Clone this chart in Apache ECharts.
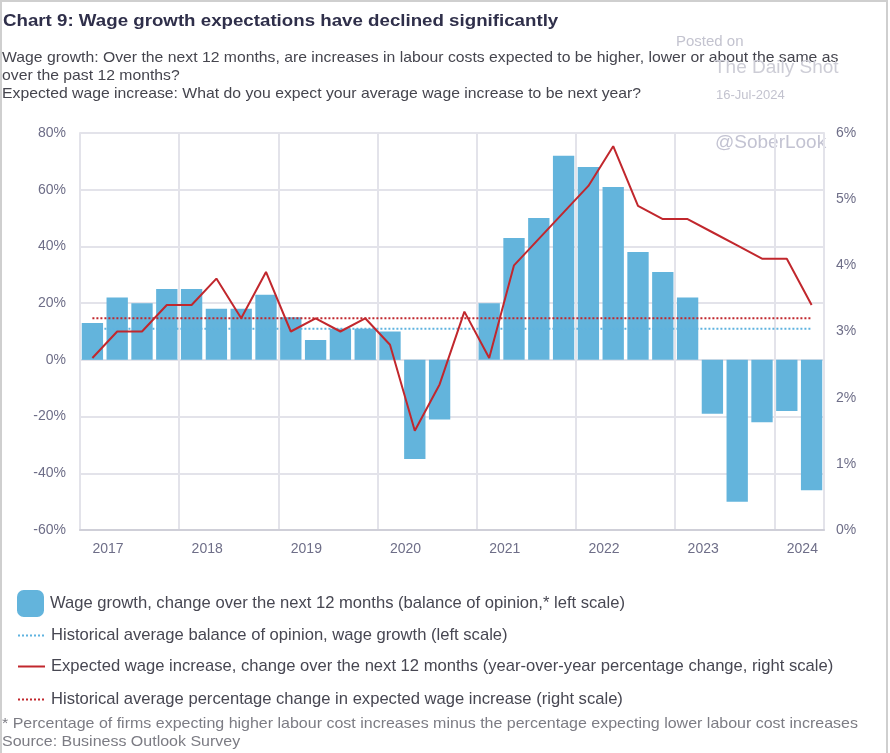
<!DOCTYPE html>
<html>
<head>
<meta charset="utf-8">
<script src="https://cdn.jsdelivr.net/npm/echarts@6/dist/echarts.min.js"></script>
<style>
  html, body { margin: 0; padding: 0; background: #ffffff; }
  #chart { position: absolute; left: 0; top: 0; width: 890px; height: 753px; }
  #frame { position: absolute; left: 0; top: 0; width: 884px; height: 753px;
           border-left: 2px solid #cfcfcf; border-top: 2px solid #cfcfcf; border-right: 2px solid #cfcfcf;
           pointer-events: none; }
</style>
</head>
<body>
<div id="chart"></div>
<div id="frame"></div>
<script>
// ---- data ----
const quarters = [
  '2017Q1','2017Q2','2017Q3','2017Q4',
  '2018Q1','2018Q2','2018Q3','2018Q4',
  '2019Q1','2019Q2','2019Q3','2019Q4',
  '2020Q1','2020Q2','2020Q3','2020Q4',
  '2021Q1','2021Q2','2021Q3','2021Q4',
  '2022Q1','2022Q2','2022Q3','2022Q4',
  '2023Q1','2023Q2','2023Q3','2023Q4',
  '2024Q1','2024Q2'
];
// balance of opinion, % (left scale)
const wageGrowth = [13, 22, 20, 25, 25, 18, 18, 23, 15, 7, 11, 11, 10, -35, -21, 0,
                    20, 43, 50, 72, 68, 61, 38, 31, 22, -19, -50, -22, -18, -46];
// expected wage increase, % y/y (right scale)
const expectedWage = [2.6, 3.0, 3.0, 3.4, 3.4, 3.8, 3.2, 3.9, 3.0, 3.2, 3.0, 3.2, 2.8, 1.5, 2.2, 3.3,
                      2.6, 4.0, 4.4, 4.8, 5.2, 5.8, 4.9, 4.7, 4.7, 4.5, 4.3, 4.1, 4.1, 3.4];
const avgWageGrowth = 11;     // historical average balance of opinion (left scale)
const avgExpectedWage = 3.2;  // historical average expected wage increase (right scale)

const leftAxis = { min: -60, max: 80, interval: 20 };
const rightAxis = { min: 0, max: 6, interval: 1 };

const seriesNames = [
  'Wage growth, change over the next 12 months (balance of opinion,* left scale)',
  'Historical average balance of opinion, wage growth (left scale)',
  'Expected wage increase, change over the next 12 months (year-over-year percentage change, right scale)',
  'Historical average percentage change in expected wage increase (right scale)'
];

const titleText = 'Chart 9: Wage growth expectations have declined significantly';
const subtitleLines = [
  'Wage growth: Over the next 12 months, are increases in labour costs expected to be higher, lower or about the same as',
  'over the past 12 months?',
  'Expected wage increase: What do you expect your average wage increase to be next year?'
];
const footLines = [
  '* Percentage of firms expecting higher labour cost increases minus the percentage expecting lower labour cost increases',
  'Source: Business Outlook Survey'
];

// ---- chart ----
const FONT = '"Liberation Sans", Arial, sans-serif';
const BAR = '#63b4dc';
const RED = '#c1272d';
const BLUEDOT = '#5fb3e0';
const AXISTXT = '#6e6e88';
const GRIDC = '#e3e3ea';

const chart = echarts.init(document.getElementById('chart'), null, { renderer: 'canvas' });
const last = quarters.length - 1;

const legendTops = [590, 622, 653, 686];
function makeLegend(i, extra) {
  return Object.assign({
    orient: 'vertical', left: 17, top: legendTops[i], padding: 0,
    itemWidth: 27, itemHeight: 27, itemGap: 0,
    textStyle: { fontSize: 16.6, color: '#474752', fontFamily: FONT, lineHeight: 27, padding: [0, 0, 0, 1] },
    data: [extra]
  }, {});
}

const hiddenSymbol = { opacity: 0 };

const option = {
  animation: false,
  backgroundColor: '#ffffff',
  textStyle: { fontFamily: FONT },
  grid: { left: 80, right: 66, top: 133, bottom: 223, containLabel: false },
  legend: [
    makeLegend(0, { name: seriesNames[0], icon: 'roundRect' }),
    makeLegend(1, { name: seriesNames[1], itemStyle: hiddenSymbol }),
    makeLegend(2, { name: seriesNames[2], itemStyle: hiddenSymbol }),
    makeLegend(3, { name: seriesNames[3], itemStyle: hiddenSymbol })
  ],
  xAxis: {
    type: 'category', data: quarters, boundaryGap: true, position: 'bottom',
    axisLine: { show: true, onZero: false, lineStyle: { color: '#cfcfd8', width: 2 } },
    axisTick: { show: false, interval: 3 },
    axisLabel: {
      interval: 3, align: 'left', margin: 12, color: AXISTXT, fontSize: 14, fontFamily: FONT,
      formatter: v => v.slice(0, 4)
    },
    splitLine: { show: true, interval: 3, lineStyle: { color: GRIDC, width: 2 } }
  },
  yAxis: [
    {
      type: 'value', min: leftAxis.min, max: leftAxis.max, interval: leftAxis.interval,
      axisLine: { show: true, lineStyle: { color: GRIDC, width: 2 } },
      axisTick: { show: false },
      axisLabel: { formatter: '{value}%', color: AXISTXT, fontSize: 14, margin: 14, fontFamily: FONT },
      splitLine: { show: true, lineStyle: { color: GRIDC, width: 2 } }
    },
    {
      type: 'value', min: rightAxis.min, max: rightAxis.max, interval: rightAxis.interval,
      position: 'right',
      axisLine: { show: true, lineStyle: { color: GRIDC, width: 2 } },
      axisTick: { show: false },
      axisLabel: { formatter: '{value}%', color: AXISTXT, fontSize: 14, margin: 12, fontFamily: FONT },
      splitLine: { show: false }
    }
  ],
  series: [
    {
      name: seriesNames[0], type: 'bar', yAxisIndex: 0, data: wageGrowth,
      barCategoryGap: '14%', itemStyle: { color: BAR }, z: 2
    },
    {
      name: seriesNames[1], type: 'line', yAxisIndex: 0,
      data: [[0, avgWageGrowth], [last, avgWageGrowth]],
      symbol: 'none', lineStyle: { color: BLUEDOT, width: 2, type: [2, 2] },
      itemStyle: { color: BLUEDOT }, z: 3
    },
    {
      name: seriesNames[2], type: 'line', yAxisIndex: 1, data: expectedWage,
      symbol: 'none', lineStyle: { color: RED, width: 2 }, itemStyle: { color: RED }, z: 5
    },
    {
      name: seriesNames[3], type: 'line', yAxisIndex: 1,
      data: [[0, avgExpectedWage], [last, avgExpectedWage]],
      symbol: 'none', lineStyle: { color: RED, width: 2, type: [2, 2] },
      itemStyle: { color: RED }, z: 4
    }
  ],
  graphic: [
    { type: 'text', x: 3, y: 21, scaleX: 1.1, style: { text: titleText, fill: '#2f2f4a', font: 'bold 17px ' + FONT, verticalAlign: 'middle' } },
    { type: 'text', x: 2, y: 58, scaleX: 1.05, style: { text: subtitleLines[0], fill: '#45454e', font: '15px ' + FONT, verticalAlign: 'middle' } },
    { type: 'text', x: 2, y: 76, scaleX: 1.05, style: { text: subtitleLines[1], fill: '#45454e', font: '15px ' + FONT, verticalAlign: 'middle' } },
    { type: 'text', x: 2, y: 94, scaleX: 1.05, style: { text: subtitleLines[2], fill: '#45454e', font: '15px ' + FONT, verticalAlign: 'middle' } },
    { type: 'text', x: 676, y: 42, style: { text: 'Posted on', fill: '#c3c3cf', font: '15px ' + FONT, verticalAlign: 'middle' } },
    { type: 'text', x: 714, y: 68, style: { text: 'The Daily Shot', fill: '#cdcdd6', font: '19px ' + FONT, verticalAlign: 'middle' } },
    { type: 'text', x: 716, y: 95, style: { text: '16-Jul-2024', fill: '#c3c3cf', font: '13px ' + FONT, verticalAlign: 'middle' } },
    { type: 'text', x: 715, y: 143, style: { text: '@SoberLook', fill: '#c3c3d2', font: '19px ' + FONT, verticalAlign: 'middle' } },
    { type: 'text', x: 2, y: 724, scaleX: 1.066, style: { text: footLines[0], fill: '#7c7c84', font: '15px ' + FONT, verticalAlign: 'middle' } },
    { type: 'text', x: 2, y: 742, scaleX: 1.066, style: { text: footLines[1], fill: '#7c7c84', font: '15px ' + FONT, verticalAlign: 'middle' } }
  ]
};
chart.setOption(option);
</script>
</body>
</html>
